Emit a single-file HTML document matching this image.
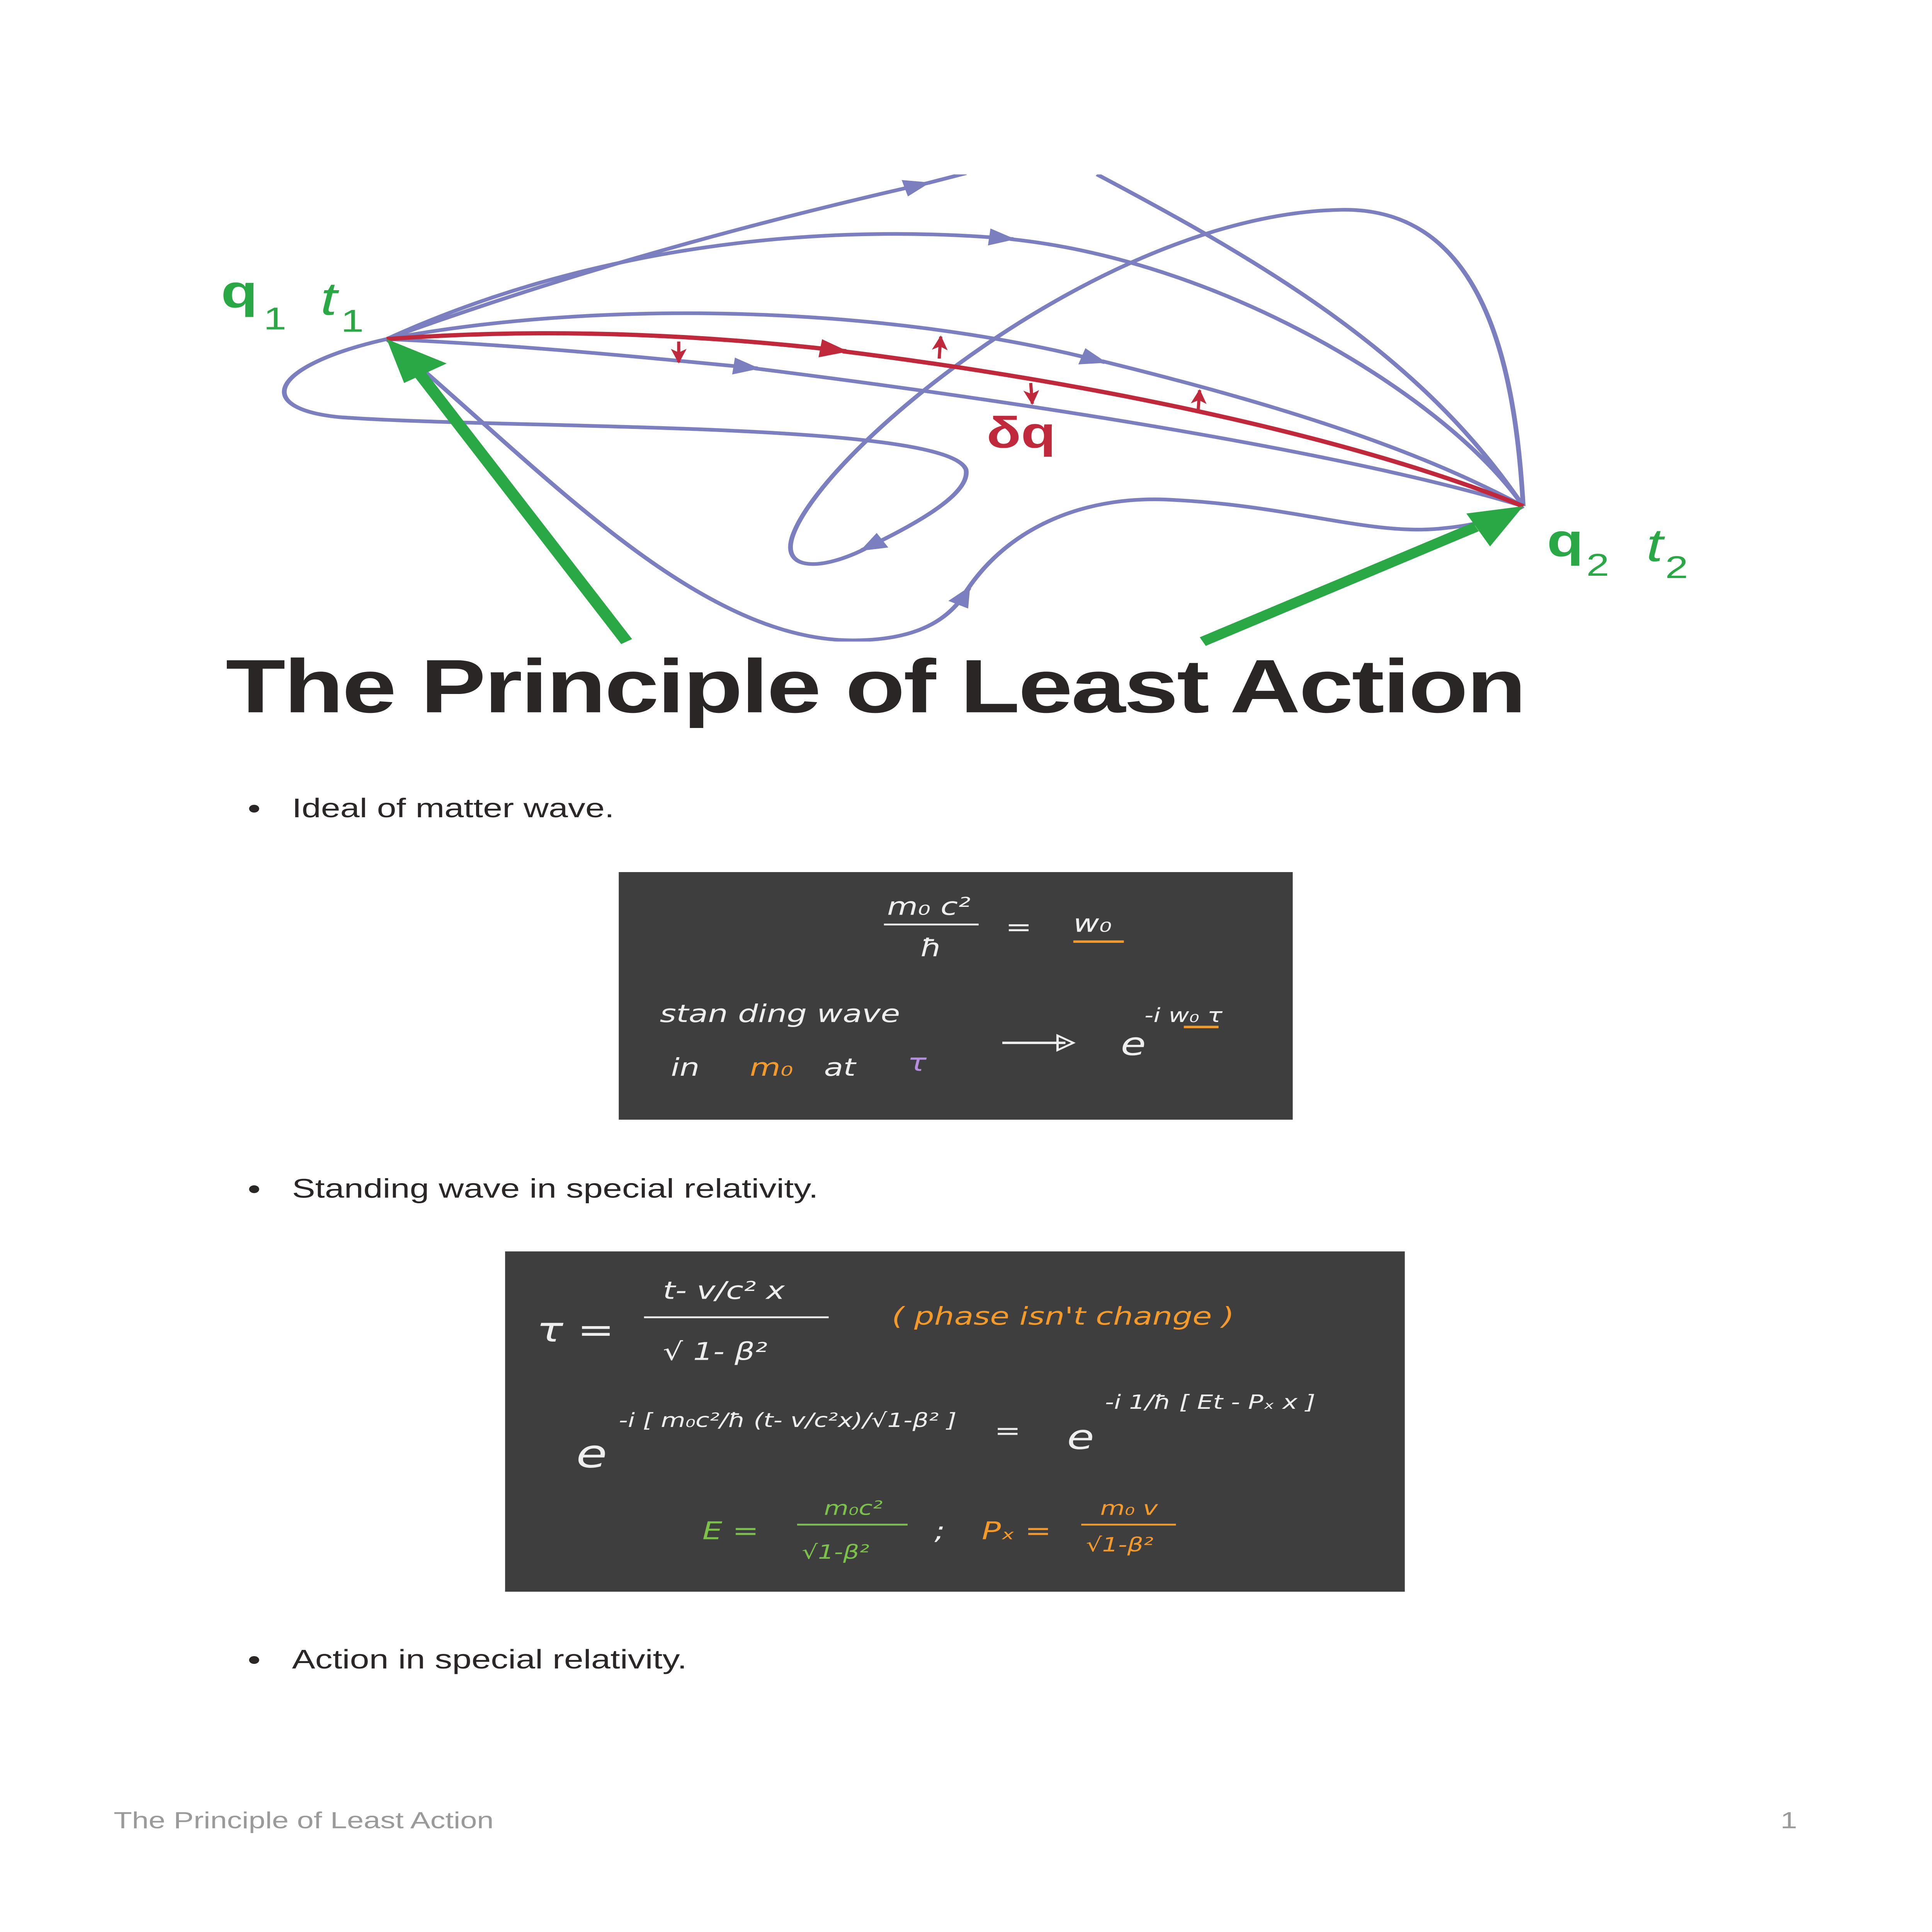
<!DOCTYPE html>
<html><head><meta charset="utf-8"><style>
html,body{margin:0;padding:0;background:#fff;width:100%;height:100%;overflow:hidden;}
svg{display:block;position:absolute;left:0;top:0;width:100vw;height:100vh}
</style></head><body>
<svg viewBox="0 0 1224 1584" preserveAspectRatio="none" xmlns="http://www.w3.org/2000/svg" font-family="Liberation Sans, sans-serif">
<defs>
<marker id="bA" viewBox="0 0 12 10" refX="11" refY="5" markerWidth="17" markerHeight="14" orient="auto" markerUnits="userSpaceOnUse"><path d="M0,0 L12,5 L0,10z" fill="#7b7fbf"/></marker>
<marker id="rA" viewBox="0 0 12 10" refX="11" refY="5" markerWidth="19" markerHeight="15" orient="auto" markerUnits="userSpaceOnUse"><path d="M0,0 L12,5 L0,10z" fill="#c0283c"/></marker>
<marker id="rs" viewBox="0 0 12 10" refX="11" refY="5" markerWidth="12" markerHeight="11" orient="auto" markerUnits="userSpaceOnUse"><path d="M0,0 L12,5 L0,10 L3,5z" fill="#c0283c"/></marker>
<clipPath id="cl"><rect x="0" y="143" width="1224" height="383"/></clipPath>
</defs>
<rect width="1224" height="1584" fill="#fff"/>
<g clip-path="url(#cl)" fill="none" stroke="#7b7fbf" stroke-width="3">
<path d="M245,278 Q400,205 588,150" marker-end="url(#bA)"/><path d="M588,150 L612,142"/>
<path d="M245,278 C360,210 500,180 642,196" marker-end="url(#bA)"/><path d="M640,196 C780,215 920,330 965,415"/>
<path d="M695,143 C800,215 900,290 965,415"/>
<path d="M245,278 C330,283 400,292 480,302" marker-end="url(#bA)"/><path d="M478,302 C650,330 850,370 965,415"/>
<path d="M245,278 C380,245 560,250 700,297" marker-end="url(#bA)"/><path d="M698,296 C820,335 900,370 965,415"/>
<path d="M245,278 C170,300 160,335 215,342 C320,352 600,345 612,385 C615,405 580,430 546,451" marker-end="url(#bA)"/><path d="M548,450 C520,468 495,468 502,440 C520,370 700,175 850,172 C940,170 960,300 965,415"/>
<path d="M245,278 C340,380 440,525 540,525 C590,525 605,500 614,482" marker-end="url(#bA)"/><path d="M612,485 C640,430 690,405 745,410 C820,415 870,440 915,433 C940,430 955,422 965,415"/>
</g>
<g fill="none" stroke="#c0283c">
<path d="M245,278 C350,268 450,275 536,288" stroke-width="3.5" marker-end="url(#rA)"/>
<path d="M534,288 C700,315 860,360 965,415" stroke-width="3.5"/>
<path d="M430,280 L430,297" stroke-width="2" marker-end="url(#rs)"/>
<path d="M595,294 L596,276" stroke-width="2" marker-end="url(#rs)"/>
<path d="M653,314 L654,331" stroke-width="2" marker-end="url(#rs)"/>
<path d="M759,338 L760,320" stroke-width="2" marker-end="url(#rs)"/>
</g>
<g stroke="#2aa846" stroke-width="8"><path d="M397,526 L265,305"/><path d="M762,526 L935,432"/></g>
<g fill="#2aa846"><path d="M245,278 L283,298 L256,314z"/><path d="M965,415 L944,448 L929,421z"/></g>
<g fill="#2aa846"><text x="140" y="252" font-size="38" font-weight="bold">q</text><text x="167" y="270" font-size="26">1</text><text x="203" y="258" font-size="38" font-style="italic">t</text><text x="216" y="272" font-size="26">1</text>
<text x="980" y="456" font-size="38" font-weight="bold">q</text><text x="1005" y="472" font-size="26">2</text><text x="1043" y="460" font-size="38" font-style="italic">t</text><text x="1055" y="474" font-size="26">2</text></g>
<text x="625" y="367" font-size="36" fill="#c0283c" font-weight="bold">δq</text>
<text x="143" y="584" font-size="62" font-weight="bold" fill="#2b2626" letter-spacing="-1">The Principle of Least Action</text>
<g font-size="22" fill="#2b2626">
<circle cx="161" cy="663" r="3.2"/><text x="185" y="670">Ideal of matter wave.</text>
<circle cx="161" cy="975" r="3.2"/><text x="185" y="982">Standing wave in special relativity.</text>
<circle cx="161" cy="1361" r="3.2"/><text x="185" y="1368">Action in special relativity.</text>
</g>
<rect x="392" y="715" width="427" height="203" fill="#3e3e3e"/>
<g font-family="DejaVu Sans, sans-serif" font-style="italic" fill="#eee" font-size="20">
<text x="562" y="750">m₀ c²</text><line x1="560" y1="758" x2="620" y2="758" stroke="#eee" stroke-width="1.5"/>
<text x="583" y="784">ħ</text><text x="637" y="767">=</text><text x="680" y="764" fill="#eee">w₀</text>
<line x1="680" y1="772" x2="712" y2="772" stroke="#f39a2b" stroke-width="2"/>
<text x="418" y="838">stan ding  wave</text>
<text x="425" y="882">in</text><text x="475" y="882" fill="#f39a2b">m₀</text><text x="522" y="882">at</text><text x="575" y="878" fill="#b58ee0">τ</text>
<line x1="635" y1="855" x2="675" y2="855" stroke="#eee" stroke-width="2"/><path d="M670,849 L680,855 L670,861z" fill="none" stroke="#eee" stroke-width="1.5"/>
<text x="710" y="865" font-size="26">e</text><text x="725" y="838" font-size="16">-i w₀ τ</text>
<line x1="750" y1="842" x2="772" y2="842" stroke="#f39a2b" stroke-width="2"/>
</g>
<rect x="320" y="1026" width="570" height="279" fill="#3e3e3e"/>
<g font-family="DejaVu Sans, sans-serif" font-style="italic" fill="#eee" font-size="20">
<text x="340" y="1100" font-size="28">τ =</text>
<text x="420" y="1065">t- v/c² x</text><line x1="408" y1="1080" x2="525" y2="1080" stroke="#eee" stroke-width="1.5"/>
<text x="420" y="1115">√ 1- β²</text>
<text x="565" y="1086" fill="#f39a2b">( phase isn't change )</text>
<text x="365" y="1203" font-size="32">e</text>
<text x="392" y="1170" font-size="16">-i [ m₀c²/ħ  (t- v/c²x)/√1-β² ]</text>
<text x="630" y="1180">=</text>
<text x="676" y="1188" font-size="28">e</text>
<text x="700" y="1155" font-size="16">-i 1/ħ [ Et - Pₓ x ]</text>
<text x="445" y="1262" fill="#7cc24a">E =</text>
<text x="522" y="1242" font-size="16" fill="#7cc24a">m₀c²</text><line x1="505" y1="1250" x2="575" y2="1250" stroke="#7cc24a" stroke-width="1.5"/>
<text x="508" y="1278" font-size="16" fill="#7cc24a">√1-β²</text>
<text x="592" y="1262">;</text>
<text x="622" y="1262" fill="#f39a2b">Pₓ =</text>
<text x="697" y="1242" font-size="16" fill="#f39a2b">m₀ v</text><line x1="685" y1="1250" x2="745" y2="1250" stroke="#f39a2b" stroke-width="1.5"/>
<text x="688" y="1272" font-size="16" fill="#f39a2b">√1-β²</text>
</g>
<text x="72" y="1499" font-size="19" fill="#9a9a9a">The Principle of Least Action</text>
<text x="1128" y="1499" font-size="19" fill="#9a9a9a">1</text>
</svg>
</body></html>
